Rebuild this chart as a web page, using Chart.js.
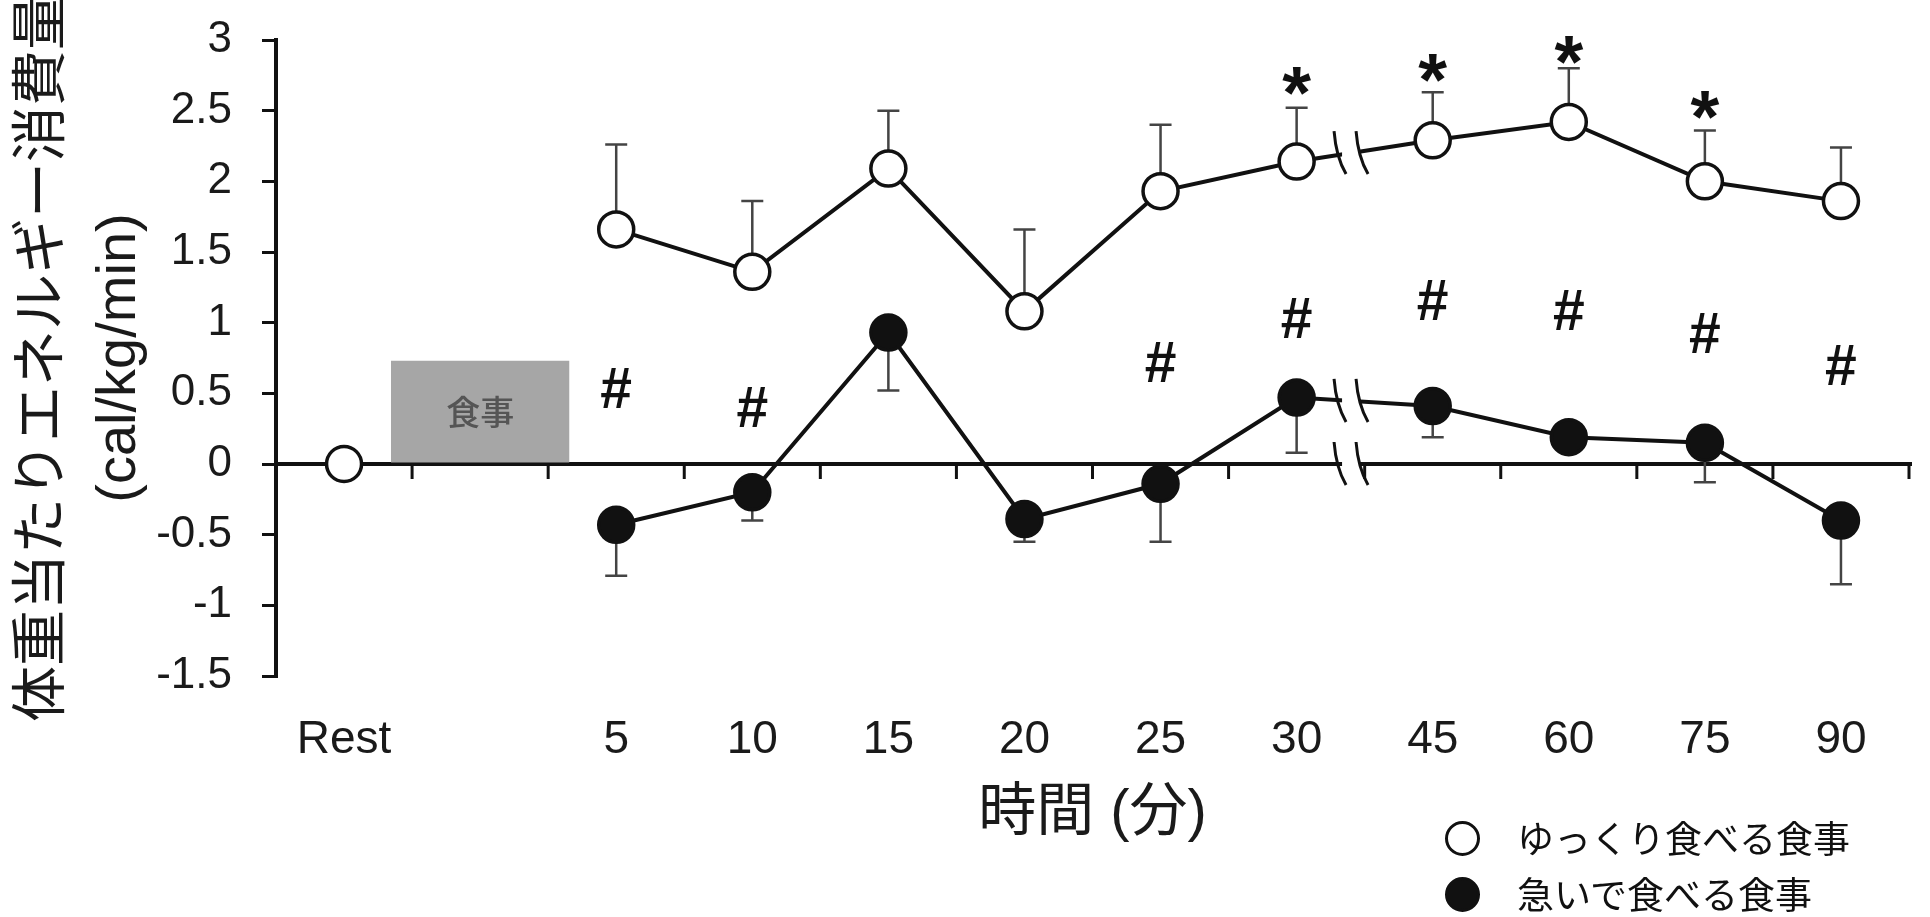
<!DOCTYPE html>
<html lang="ja">
<head>
  <meta charset="UTF-8">
  <title>体重当たりエネルギー消費量</title>
  <script src="https://cdn.jsdelivr.net/npm/chart.js"></script>
  <style>
    body { margin: 0; background: #fff; }
    .wrap { position: relative; width: 1930px; height: 917px; }
    canvas { display: block; }
    .legend { position: absolute; left: 1445px; font-family: 'Noto Sans CJK JP', sans-serif; font-size: 37px; line-height: 44px; color: #111; white-space: nowrap; }
    .legend .dot { display: inline-block; width: 35px; height: 35px; box-sizing: border-box; border-radius: 50%; border: 3px solid #111; vertical-align: top; margin-top: 6px; margin-right: 37px; }
    .legend .dot.full { background: #111; }
  </style>
</head>
<body>
<div class="wrap">
  <canvas id="energyChart" width="1930" height="917"></canvas>
  <div class="legend" style="top: 815px;"><span class="dot"></span>ゆっくり食べる食事</div>
  <div class="legend" style="top: 871px;"><span class="dot full"></span>急いで食べる食事</div>
</div>

<script>
  // 時間 (分)
  const labels = ['Rest', '', '5', '10', '15', '20', '25', '30', '45', '60', '75', '90'];
  // ゆっくり食べる食事 (平均, 誤差)
  const slowMeal = [0, null, 1.66, 1.36, 2.09, 1.08, 1.93, 2.14, 2.29, 2.42, 2.00, 1.86];
  const slowErr  = [null, null, 0.60, 0.50, 0.41, 0.58, 0.47, 0.38, 0.34, 0.38, 0.36, 0.38];
  // 急いで食べる食事
  const fastMeal = [null, null, -0.43, -0.20, 0.93, -0.39, -0.14, 0.47, 0.41, 0.19, 0.15, -0.40];
  const fastErr  = [null, null, 0.36, 0.20, 0.41, 0.16, 0.41, 0.39, 0.22, 0.05, 0.28, 0.45];
  // 食事の時間帯（灰色の枠）
  const mealBlock = [null, 0.73, null, null, null, null, null, null, null, null, null, null];
  const mealLabel = '食事';
  // 有意差の記号
  const hashMarks = [null, null, 0.54, 0.40, null, null, 0.72, 1.03, 1.16, 1.09, 0.93, 0.70];
  const starMarks = [null, null, null, null, null, null, null, 2.71, 2.80, 2.93, 2.54, null];
  const yTicks = [-1.5, -1, -0.5, 0, 0.5, 1, 1.5, 2, 2.5, 3];
  const breakAt = 7.4;

  const ink = '#111';

  function centeredText(ctx, text, x, y) {
    const m = ctx.measureText(text);
    ctx.textAlign = 'center';
    ctx.textBaseline = 'alphabetic';
    ctx.fillText(text, x, y + (m.actualBoundingBoxAscent - m.actualBoundingBoxDescent) / 2);
  }

  const extras = {
    id: 'extras',
    beforeDatasetsDraw(chart) {
      const ctx = chart.ctx;
      const xs = chart.scales.x, ys = chart.scales.y;
      const area = chart.chartArea;
      const y0 = ys.getPixelForValue(0);
      ctx.save();
      // ゼロの線と目盛り
      ctx.strokeStyle = ink;
      ctx.lineWidth = 4;
      ctx.beginPath();
      ctx.moveTo(area.left, y0);
      ctx.lineTo(area.right + 3, y0);
      ctx.stroke();
      ctx.lineWidth = 3;
      for (let k = 1; k <= labels.length; k++) {
        const x = xs.getPixelForValue(k - 0.5);
        ctx.beginPath();
        ctx.moveTo(x, y0);
        ctx.lineTo(x, y0 + 15);
        ctx.stroke();
      }
      // 誤差棒
      ctx.strokeStyle = '#444';
      ctx.lineWidth = 2.5;
      const bars = (means, errs, dir) => {
        means.forEach((m, i) => {
          if (m === null || errs[i] === null) return;
          const x = xs.getPixelForValue(i);
          const ya = ys.getPixelForValue(m);
          const yb = ys.getPixelForValue(m + dir * errs[i]);
          ctx.beginPath();
          ctx.moveTo(x, ya); ctx.lineTo(x, yb);
          ctx.moveTo(x - 11, yb); ctx.lineTo(x + 11, yb);
          ctx.stroke();
        });
      };
      bars(slowMeal, slowErr, 1);
      bars(fastMeal, fastErr, -1);
      ctx.restore();
    },
    afterDatasetsDraw(chart) {
      const ctx = chart.ctx;
      const xs = chart.scales.x, ys = chart.scales.y;
      ctx.save();

      // 食事ラベル
      const bar = chart.getDatasetMeta(2).data[1];
      ctx.fillStyle = '#555';
      ctx.font = '500 34px "Noto Sans CJK JP"';
      centeredText(ctx, mealLabel, bar.x, (bar.y + bar.base) / 2);

      // 軸の省略記号
      const cx = xs.getPixelForValue(breakAt);
      const lineY = (series) => {
        const a = Math.floor(breakAt), t = breakAt - a;
        return ys.getPixelForValue(series[a] * (1 - t) + series[a + 1] * t);
      };
      const ysBreak = [lineY(slowMeal), lineY(fastMeal), ys.getPixelForValue(0)];
      ysBreak.forEach(y => {
        ctx.fillStyle = '#fff';
        ctx.fillRect(cx - 9, y - 7, 18, 14);
        ctx.strokeStyle = ink;
        ctx.lineWidth = 3;
        [-11, 11].forEach(d => {
          ctx.beginPath();
          ctx.moveTo(cx + d - 6, y - 22);
          ctx.quadraticCurveTo(cx + d - 4, y + 4, cx + d + 6, y + 21);
          ctx.stroke();
        });
      });

      // # と *
      ctx.fillStyle = ink;
      ctx.font = 'bold 57px "Liberation Sans"';
      hashMarks.forEach((v, i) => {
        if (v !== null) centeredText(ctx, '#', xs.getPixelForValue(i), ys.getPixelForValue(v));
      });
      ctx.font = 'bold 74px "Liberation Sans"';
      starMarks.forEach((v, i) => {
        if (v !== null) centeredText(ctx, '*', xs.getPixelForValue(i), ys.getPixelForValue(v));
      });
      ctx.restore();
    }
  };

  const ctx = document.getElementById('energyChart').getContext('2d');
  new Chart(ctx, {
    type: 'line',
    data: {
      labels: labels,
      datasets: [
        {
          label: 'ゆっくり食べる食事',
          data: slowMeal,
          borderColor: ink,
          borderWidth: 4,
          pointRadius: 17.5,
          pointBorderWidth: 3.5,
          pointBackgroundColor: '#fff',
          pointBorderColor: ink,
          tension: 0,
          order: 1
        },
        {
          label: '急いで食べる食事',
          data: fastMeal,
          borderColor: ink,
          borderWidth: 4,
          pointRadius: 17.5,
          pointBorderWidth: 3.5,
          pointBackgroundColor: ink,
          pointBorderColor: ink,
          tension: 0,
          order: 2
        },
        {
          type: 'bar',
          label: mealLabel,
          data: mealBlock,
          backgroundColor: '#a6a6a6',
          borderWidth: 0,
          categoryPercentage: 1,
          barPercentage: 1.31,
          order: 10
        }
      ]
    },
    options: {
      responsive: false,
      animation: false,
      events: [],
      layout: { padding: { top: 40, right: 13, bottom: 0, left: 0 } },
      plugins: {
        legend: { display: false },
        tooltip: { enabled: false }
      },
      scales: {
        x: {
          offset: true,
          grid: { display: false, drawTicks: false, offset: true },
          border: { display: false },
          ticks: {
            autoSkip: false,
            maxRotation: 0,
            padding: 37,
            color: '#1a1a1a',
            font: { family: '"Liberation Sans", Arial, sans-serif', size: 46 }
          },
          title: {
            display: true,
            text: '時間 (分)',
            color: '#1a1a1a',
            font: { family: '"Liberation Sans", "Noto Sans CJK JP", sans-serif', size: 58, lineHeight: 1.2 },
            padding: { top: 0, bottom: 68 }
          },
          afterFit(scale) { scale.height = 917 - 676; }
        },
        y: {
          min: -1.5,
          max: 3,
          afterBuildTicks(scale) { scale.ticks = yTicks.map(v => ({ value: v })); },
          grid: { drawOnChartArea: false, drawTicks: true, tickLength: 14, color: ink, lineWidth: 3 },
          border: { display: true, color: ink, width: 4 },
          ticks: {
            padding: 30,
            color: '#1a1a1a',
            font: { family: '"Liberation Sans", Arial, sans-serif', size: 44 },
            callback: v => String(v)
          },
          title: {
            display: true,
            text: ['体重当たりエネルギー消費量', '(cal/kg/min)'],
            color: '#1a1a1a',
            font: { family: '"Liberation Sans", "Noto Sans CJK JP", sans-serif', size: 56, lineHeight: 1.357 },
            padding: { top: 6, bottom: 0 }
          },
          afterFit(scale) {
            scale.width = 276;
            scale.paddingTop = 20;
            scale.paddingBottom = 20;
          }
        }
      }
    },
    plugins: [extras]
  });
</script>
</body>
</html>
